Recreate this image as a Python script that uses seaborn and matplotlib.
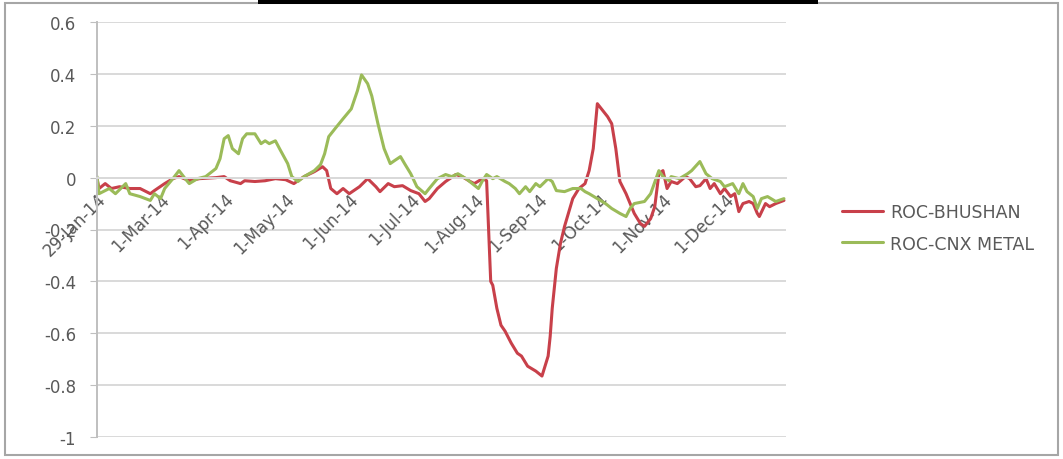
import numpy as np
import pandas as pd
import seaborn as sns
import matplotlib.pyplot as plt
from matplotlib.patches import Rectangle

# --- data (day = days after 29-Jan-2014) ---
start_date = '2014-01-29'

metal_day = [0, 1, 6, 9, 14, 16, 21, 26, 28, 31, 33, 37, 40, 43, 45, 49, 53, 58, 60, 62,
             64, 66, 69, 71, 73, 77, 80, 82, 84, 87, 89, 93, 95, 98, 101, 106, 109, 111, 113, 116,
             120, 124, 127, 129, 132, 134, 137, 140, 143, 145, 148, 150, 153, 156, 160, 162, 166, 170, 173, 176,
             180, 183, 186, 188, 190, 193, 195, 199, 201, 204, 206, 209, 211, 214, 216, 220, 222, 224, 228, 232,
             236, 238, 240, 244, 248, 251, 255, 258, 260, 262, 267, 270, 274, 276, 279, 280, 284, 288, 290, 294,
             297, 300, 304, 306, 310, 313, 315, 317, 320, 322, 324, 327, 331, 335]
metal_roc = [0.004, -0.062, -0.042, -0.062, -0.023, -0.062, -0.073, -0.088, -0.062, -0.081,
             -0.042, -0.004, 0.027, -0.004, -0.023, -0.004, 0.004, 0.035, 0.073, 0.150,
             0.162, 0.112, 0.092, 0.150, 0.169, 0.169, 0.131, 0.142, 0.131, 0.142,
             0.112, 0.054, 0.004, -0.015, 0.004, 0.027, 0.050, 0.092, 0.158, 0.188,
             0.227, 0.265, 0.335, 0.396, 0.362, 0.315, 0.208, 0.112, 0.054, 0.065,
             0.081, 0.054, 0.015, -0.035, -0.062, -0.042, -0.004, 0.012, 0.004, 0.015,
             -0.004, -0.023, -0.042, -0.012, 0.012, -0.004, 0.004, -0.015, -0.023, -0.042,
             -0.062, -0.035, -0.054, -0.023, -0.035, -0.004, -0.015, -0.050, -0.054, -0.042,
             -0.042, -0.054, -0.062, -0.081, -0.100, -0.119, -0.138, -0.150, -0.119, -0.100,
             -0.092, -0.062, 0.027, 0.004, -0.012, 0.004, -0.004, 0.015, 0.027, 0.062,
             0.015, -0.004, -0.015, -0.035, -0.023, -0.062, -0.023, -0.054, -0.073, -0.119,
             -0.081, -0.073, -0.092, -0.081]

bhushan_day = [0, 1, 4, 7, 11, 16, 21, 26, 28, 33, 37, 40, 45, 50, 58, 62, 65, 70, 72, 77,
               82, 87, 92, 96, 101, 106, 110, 112, 114, 117, 120, 123, 128, 132, 136, 138, 142, 145, 149, 153,
               157, 160, 162, 166, 170, 175, 178, 182, 184, 188, 190, 192, 193, 195, 197, 199, 202, 205, 207, 210,
               214, 217, 220, 221, 222, 224, 226, 228, 232, 235, 238, 240, 242, 244, 246, 249, 251, 253, 255, 258,
               260, 262, 265, 267, 270, 272, 274, 276, 278, 280, 283, 287, 289, 292, 294, 297, 299, 301, 304, 306,
               309, 311, 313, 315, 318, 320, 322, 323, 326, 328, 331, 335]
bhushan_roc = [-0.004, -0.042, -0.023, -0.042, -0.035, -0.042, -0.042, -0.062, -0.050, -0.023,
               -0.004, 0.004, -0.012, -0.004, 0.000, 0.004, -0.012, -0.023, -0.012, -0.015,
               -0.012, -0.004, -0.008, -0.023, 0.004, 0.023, 0.042, 0.027, -0.042, -0.062,
               -0.042, -0.062, -0.035, -0.004, -0.035, -0.054, -0.023, -0.035, -0.031, -0.050,
               -0.062, -0.092, -0.081, -0.042, -0.015, 0.012, 0.004, -0.015, -0.023, -0.004,
               -0.012, -0.400, -0.415, -0.504, -0.569, -0.592, -0.638, -0.677, -0.688, -0.727,
               -0.746, -0.765, -0.688, -0.612, -0.504, -0.350, -0.254, -0.188, -0.081, -0.042,
               -0.023, 0.027, 0.112, 0.285, 0.265, 0.235, 0.208, 0.112, -0.015, -0.062,
               -0.100, -0.138, -0.177, -0.188, -0.158, -0.112, 0.015, 0.027, -0.042, -0.015,
               -0.023, 0.004, -0.004, -0.035, -0.031, -0.004, -0.042, -0.023, -0.062, -0.042,
               -0.073, -0.062, -0.131, -0.100, -0.092, -0.100, -0.138, -0.150, -0.100, -0.112,
               -0.100, -0.088]

tick_dates = ['2014-01-29', '2014-03-01', '2014-04-01', '2014-05-01', '2014-06-01', '2014-07-01',
              '2014-08-01', '2014-09-01', '2014-10-01', '2014-11-01', '2014-12-01']
tick_labels = ['29-Jan-14', '1-Mar-14', '1-Apr-14', '1-May-14', '1-Jun-14', '1-Jul-14',
               '1-Aug-14', '1-Sep-14', '1-Oct-14', '1-Nov-14', '1-Dec-14']
series_names = ['ROC-BHUSHAN', 'ROC-CNX METAL']
series_colors = ['#C8404A', '#9BBB59']

# --- build long table ---
t0 = pd.Timestamp(start_date)
df_b = pd.DataFrame({'date': t0 + pd.to_timedelta(bhushan_day, unit='D'),
                     'roc': bhushan_roc, 'series': series_names[0]})
df_m = pd.DataFrame({'date': t0 + pd.to_timedelta(metal_day, unit='D'),
                     'roc': metal_roc, 'series': series_names[1]})
df = pd.concat([df_b, df_m], ignore_index=True)

sns.set_style('white')
plt.rcParams['font.family'] = ['DejaVu Sans']

fig = plt.figure(figsize=(10.63, 4.60), dpi=100)
ax = fig.add_axes([97 / 1063, 1 - 438 / 460, 689 / 1063, 415 / 460])

# gridlines
for yv in np.arange(-1.0, 0.61, 0.2):
    ax.axhline(yv, color='#d9d9d9', lw=1.4, zorder=0)

sns.lineplot(data=df, x='date', y='roc', hue='series', hue_order=series_names,
             palette=series_colors, linewidth=2.2, ax=ax, legend=True, estimator=None)

ax.set_xlim(t0, pd.Timestamp('2014-12-31'))
ax.set_ylim(-1.0, 0.6)
ax.set_yticks(np.round(np.arange(-1.0, 0.61, 0.2), 1))
ax.set_yticklabels(['-1', '-0.8', '-0.6', '-0.4', '-0.2', '0', '0.2', '0.4', '0.6'])
ax.set_xticks(pd.to_datetime(tick_dates))
ax.set_xticklabels(tick_labels)
ax.set_xlabel('')
ax.set_ylabel('')

for s in ['top', 'right']:
    ax.spines[s].set_visible(False)
ax.spines['left'].set_color('#bfbfbf')
ax.spines['left'].set_linewidth(1.4)
ax.spines['bottom'].set_position(('data', 0))
ax.spines['bottom'].set_color('#d9d9d9')
ax.spines['bottom'].set_linewidth(1.4)
ax.tick_params(axis='y', left=True, length=5, color='#bfbfbf', labelsize=12,
               labelcolor='#595959', pad=10)
ax.tick_params(axis='x', bottom=False, labelsize=12, labelcolor='#595959', pad=5)
for lab in ax.get_xticklabels():
    lab.set_rotation(45)
    lab.set_ha('right')
    lab.set_rotation_mode('anchor')
ax.patch.set_alpha(0)

leg = ax.legend(loc='center left', bbox_to_anchor=(826 / 1063, 1 - 229 / 460),
                bbox_transform=fig.transFigure, frameon=False, fontsize=12.5,
                handlelength=2.4, handletextpad=0.4, labelspacing=0.75)
for t in leg.get_texts():
    t.set_color('#595959')
for h in leg.get_lines():
    h.set_linewidth(2.2)

# screenshot frame
fig.patches.append(Rectangle((5 / 1063, 4 / 460), 1053 / 1063, 452 / 460, transform=fig.transFigure,
                             fill=False, edgecolor='#a6a6a6', lw=1.5))
fig.patches.append(Rectangle((258 / 1063, 1 - 5 / 460), 560 / 1063, 5 / 460, transform=fig.transFigure,
                             facecolor='black', edgecolor='none'))

fig.savefig('out.png', dpi=100)
